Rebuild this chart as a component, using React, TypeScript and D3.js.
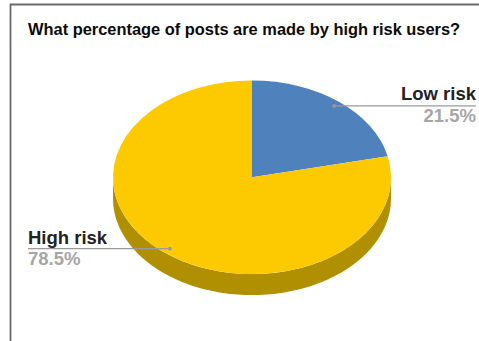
import React from "react";
import * as d3 from "d3";

const title = "What percentage of posts are made by high risk users?";
const categories = ["Low risk", "High risk"];
const shares = [21.5, 78.5];
const sliceColors = ["#4f81bd", "#fdca02"];
const sideColor = "#b08f00";

const W = 479;
const H = 341;
const cx = 252;
const cy = 177.3;
const rx = 139;
const ry = 96.8;
const depth = 21;
const dotRadius = 0.945;

const FONT = "'Liberation Sans', Arial, sans-serif";

// Pie angles run clockwise from twelve o'clock; each arc is flattened onto an ellipse.
const slices = d3.pie<number>().sort(null).value((d) => d)(shares);
const arc = d3.arc<d3.PieArcDatum<number>>().innerRadius(0).outerRadius(rx);
const flatten = ry / rx;

// Front wall of the disc: lower half of the rim, swept down by the depth.
const rimAngles = d3.range(Math.PI / 2, (3 * Math.PI) / 2 + 0.001, Math.PI / 120);
const wall = d3
  .area<number>()
  .x((a) => cx + rx * Math.sin(a))
  .y0((a) => cy - ry * Math.cos(a))
  .y1((a) => cy - ry * Math.cos(a) + depth)(rimAngles);

function anchorOf(s: d3.PieArcDatum<number>) {
  const mid = (s.startAngle + s.endAngle) / 2;
  return {
    x: cx + rx * dotRadius * Math.sin(mid),
    y: cy - ry * dotRadius * Math.cos(mid),
  };
}

export default function App() {
  const low = anchorOf(slices[0]);
  const high = anchorOf(slices[1]);
  const lineColor = "#9a9a9a";
  return (
    <svg
      width={W}
      height={H}
      viewBox={`0 0 ${W} ${H}`}
      style={{ position: "absolute", left: 0, top: 0, display: "block", background: "#fff" }}
    >
      <path d={`M10.5 ${H}V4.5H${W}`} fill="none" stroke="#6a6a6a" strokeWidth={1.8} />
      <text x={28} y={35} fontFamily={FONT} fontWeight={700} fontSize={16.42} fill="#0b0b0b">
        {title}
      </text>

      <path d={wall ?? ""} fill={sideColor} />
      <g transform={`translate(${cx},${cy}) scale(1,${flatten})`}>
        {slices.map((s, i) => (
          <path key={categories[i]} d={arc(s) ?? ""} fill={sliceColors[i]} />
        ))}
      </g>

      <line x1={low.x} x2={476} y1={low.y} y2={low.y} stroke={lineColor} strokeWidth={1.3} />
      <circle cx={low.x} cy={low.y} r={1.9} fill={lineColor} />
      <text x={476} y={100} textAnchor="end" fontFamily={FONT} fontWeight={700} fontSize={18.5} fill="#222">
        {categories[0]}
      </text>
      <text x={476} y={122} textAnchor="end" fontFamily={FONT} fontWeight={700} fontSize={18.5} fill="#a6a6a6">
        {`${shares[0].toFixed(1)}%`}
      </text>

      <line x1={28} x2={high.x} y1={high.y} y2={high.y} stroke={lineColor} strokeWidth={1.3} />
      <circle cx={high.x} cy={high.y} r={1.9} fill={lineColor} />
      <text x={28} y={244} fontFamily={FONT} fontWeight={700} fontSize={18.5} fill="#222">
        {categories[1]}
      </text>
      <text x={28} y={265} fontFamily={FONT} fontWeight={700} fontSize={18.5} fill="#a6a6a6">
        {`${shares[1].toFixed(1)}%`}
      </text>
    </svg>
  );
}
